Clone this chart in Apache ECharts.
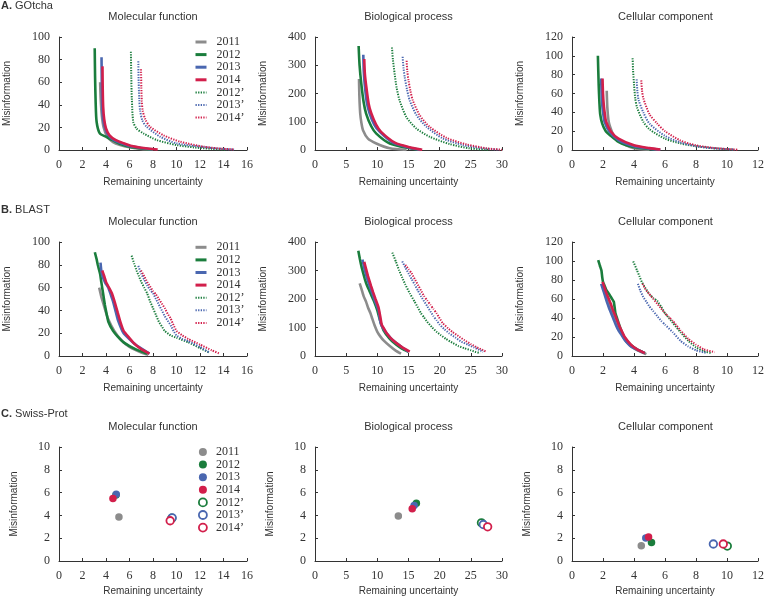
<!DOCTYPE html>
<html><head><meta charset="utf-8">
<script src="https://cdn.jsdelivr.net/npm/echarts@6/dist/echarts.min.js"></script>
<style>html,body{margin:0;padding:0;background:#fff}#c{width:767px;height:598px}</style>
</head><body><div id="c"></div>
<script>
// ---- labels ----
const years = ['2011','2012','2013','2014','2012\u2019','2013\u2019','2014\u2019'];
const colors = ['#8c8c8c','#1a7d3c','#4a67b0','#d21f4b','#1a7d3c','#4a67b0','#d21f4b'];
const rowTitles = ['GOtcha','BLAST','Swiss-Prot'];
const rowLetters = ['A.','B.','C.'];
const colTitles = ['Molecular function','Biological process','Cellular component'];
const xMaxes = [16,30,12];
const xSteps = [2,5,2];
const yMaxes = [100,400,120];
const ySteps = [20,100,20];
const yMaxScatter = 10, yStepScatter = 2;

// ---- A. GOtcha : Molecular function ----
const gMF2011 = [[3.5,60],[3.55,45],[3.65,30],[3.8,20],[4.1,12],[4.6,7],[5.2,4.5],[6,2.5],[7,1],[8,0.3]];
const gMF2012 = [[3.04,90],[3.07,65],[3.12,42],[3.2,25],[3.47,14.7],[4.05,11.5],[4.6,8.5],[5.3,5],[6,2.8],[7,1.3],[8,0.4]];
const gMF2013 = [[3.62,82],[3.64,60],[3.68,40],[3.75,28],[3.9,20],[4.2,13],[4.7,8.5],[5.3,6],[6,3.5],[7,1.8],[8,0.6]];
const gMF2014 = [[3.7,74],[3.72,55],[3.76,38],[3.85,27],[4.0,19],[4.3,13],[4.8,9],[5.5,6],[6.2,3.5],[7,2],[8.4,0.4]];
const gMF2012p = [[6.12,87],[6.15,65],[6.2,45],[6.32,25],[6.6,19],[7.18,14.7],[8.32,8.8],[10,4.4],[11.5,2.3],[13,1],[14.2,0.3]];
const gMF2013p = [[6.75,78.5],[6.78,60],[6.83,45],[6.9,35],[7.1,26],[7.46,20.6],[8.6,11.8],[10,5.9],[12,3],[13.5,1.3],[14.9,0.4]];
const gMF2014p = [[6.98,71.5],[7.01,55],[7.05,43],[7.12,35],[7.35,27],[7.75,20.6],[8.9,13],[10.3,7.4],[12.3,3],[13.8,1.2],[14.9,0.5]];
// ---- A. GOtcha : Biological process ----
const gBP2011 = [[7.06,251],[7.12,190],[7.25,130],[7.45,95],[7.7,70],[8.5,40],[9.84,23],[12,6],[14.7,0.5]];
const gBP2012 = [[7.0,368],[7.15,300],[7.43,234],[7.8,170],[8.2,129],[9,85],[9.84,58],[12,23],[15.2,6],[16.8,0.5]];
const gBP2013 = [[7.75,337],[7.82,280],[7.97,234],[8.3,170],[8.77,129],[9.5,90],[10.4,64],[12.5,26],[15.2,8],[17,0.5]];
const gBP2014 = [[7.9,322],[8.0,270],[8.24,222],[8.6,165],[9.04,129],[9.8,90],[10.6,64],[12.8,26],[15.5,8],[17.2,1]];
const gBP2012p = [[12.35,363],[12.5,320],[12.78,269],[13.1,220],[13.58,175],[14.65,117],[16.26,76],[18.4,47],[21.6,21],[24.8,6],[28,0.5]];
const gBP2013p = [[14.06,330],[14.2,290],[14.4,257],[14.75,215],[15.2,175],[16.3,123],[17.9,82],[20.5,41],[23.7,18],[27,6],[29.6,0.5]];
const gBP2014p = [[14.7,316],[14.8,280],[15.0,246],[15.3,210],[15.7,175],[16.8,123],[18.4,82],[21.1,43],[24.3,20],[27.5,6],[30,1]];
// ---- A. GOtcha : Cellular component ----
const gCC2011 = [[2.24,63],[2.28,45],[2.35,32],[2.45,25],[2.7,15],[3,10],[3.5,5],[4,2],[4.5,0.8],[5,0.3]];
const gCC2012 = [[1.67,100],[1.72,70],[1.77,50],[1.82,38],[1.95,28],[2.18,20],[2.5,15],[3,8.5],[3.5,5],[4,3],[5,1],[5.5,0.3]];
const gCC2013 = [[1.88,76],[1.91,60],[1.95,48],[2.02,38],[2.1,30],[2.4,20],[3,10.5],[4,4],[5,1.5],[5.7,0.3]];
const gCC2014 = [[1.97,76],[2.0,60],[2.05,48],[2.12,38],[2.2,30],[2.5,20],[3,12],[4,5],[5,2],[5.7,0.5]];
const gCC2012p = [[3.91,97.5],[3.94,85],[4.0,70],[4.08,55],[4.2,45],[4.6,30],[5,22],[6,12],[7,7],[8,4],[9,2],[10,0.8],[10.5,0.3]];
const gCC2013p = [[4.17,75],[4.22,62],[4.3,53],[4.6,40],[5,28],[6,15],[7,8],[8,4],[9,2],[10,0.9],[10.5,0.3]];
const gCC2014p = [[4.47,74],[4.52,63],[4.6,55],[5,38],[5.5,28],[6,20],[7,10],[8,5],[9,2.5],[10,1],[10.7,0.3]];

// ---- B. BLAST : Molecular function ----
const bMF2011 = [[3.42,60],[3.6,52],[3.8,45],[4.0,38],[4.2,32],[4.7,22],[5.3,14],[6,8],[7,3],[7.6,1]];
const bMF2012 = [[3.05,91],[3.2,85],[3.3,80],[3.5,72],[3.6,65],[3.75,55],[3.9,45],[4.05,37],[4.2,30],[4.6,22],[5,17],[5.5,12],[6.5,6],[7.5,2]];
const bMF2013 = [[3.53,82],[3.6,75],[3.7,70],[3.95,64],[4.2,60],[4.4,54],[4.6,48],[4.8,40],[5,32],[5.5,20],[6.5,10],[7.7,2]];
const bMF2014 = [[3.68,75],[3.85,70],[4,65],[4.25,60],[4.5,55],[4.75,47],[5,38],[5.25,29],[5.5,22],[6.3,12],[7,6],[7.7,2]];
const bMF2012p = [[6.18,88],[6.4,81],[6.6,75],[6.8,70],[7,65],[7.25,60],[7.5,55],[7.75,48],[8,42],[8.25,36],[8.5,30],[8.75,26],[9,22],[9.5,18],[10,16],[11,12],[12,7],[12.8,3]];
const bMF2013p = [[6.75,79],[7,72],[7.25,67],[7.5,62],[7.75,58],[8,55],[8.25,50],[8.5,45],[8.75,40],[9,35],[9.25,31],[9.5,27],[9.75,22],[10,18],[10.5,15],[11,13],[12,8],[12.8,3]];
const bMF2014p = [[6.98,75],[7.25,70],[7.5,65],[7.75,61],[8,57],[8.25,54],[8.5,50],[8.75,46],[9,42],[9.25,37],[9.5,33],[9.75,27],[10,22],[10.5,18],[11,15],[12,10],[13,5],[13.7,2]];
// ---- B. BLAST : Biological process ----
const bBP2011 = [[7.17,255],[7.5,232],[7.8,210],[8.2,190],[8.5,170],[8.9,150],[9.2,130],[9.6,105],[10,85],[10.5,68],[11,55],[12,35],[13,18],[13.8,8]];
const bBP2012 = [[6.95,369],[7.2,340],[7.5,310],[8,270],[8.3,250],[8.7,230],[9.1,210],[9.5,190],[10,160],[10.3,135],[10.5,120],[11,90],[12,60],[13,40],[14,25],[15,15]];
const bBP2013 = [[7.6,338],[7.8,320],[8,300],[8.4,270],[8.7,250],[9.1,225],[9.5,200],[10.2,160],[10.4,130],[10.6,110],[11,95],[11.5,80],[12.5,55],[14,30],[15,15]];
const bBP2014 = [[7.9,330],[8.2,305],[8.5,280],[9,245],[9.3,225],[9.7,200],[10.2,170],[10.5,135],[10.7,110],[11.1,95],[11.5,80],[12.5,55],[14,30],[15.2,15]];
const bBP2012p = [[12.4,363],[13,330],[13.5,300],[14,275],[14.5,250],[15.2,220],[16,190],[16.5,170],[17,150],[17.5,135],[18,120],[18.8,100],[19.5,85],[20.2,73],[21,60],[22,47],[23,35],[24,27],[25,20],[25.8,14],[26.5,10]];
const bBP2013p = [[14,332],[14.5,310],[15,290],[15.5,270],[16,250],[16.5,230],[17,210],[17.5,192],[18,175],[18.5,157],[19,140],[19.5,125],[20,110],[20.7,95],[21.5,80],[22.5,65],[23.5,50],[24.5,40],[25.5,30],[26.3,22],[27,15]];
const bBP2014p = [[14.5,320],[15,305],[15.5,290],[16,270],[16.5,250],[17,230],[17.5,210],[18,195],[18.5,180],[19,165],[19.5,150],[20,132],[20.5,115],[21.2,100],[22,85],[23,70],[24,55],[25,42],[26,30],[26.8,22],[27.5,15]];
// ---- B. BLAST : Cellular component ----
const bCC2011 = [[2.0,76],[2.15,68],[2.3,60],[2.45,52],[2.6,45],[2.8,37],[3.0,30],[3.25,22],[3.5,15],[4,8],[4.5,4],[4.8,2]];
const bCC2012 = [[1.69,101],[1.8,95],[1.9,90],[1.95,83],[2.0,78],[2.1,74],[2.2,70],[2.4,65],[2.55,61],[2.7,57],[2.8,45],[2.9,40],[3.0,35],[3.15,28],[3.3,22],[3.5,17],[3.7,13],[4.2,7],[4.7,3]];
const bCC2013 = [[1.88,76],[2.0,70],[2.1,65],[2.25,57],[2.4,50],[2.55,44],[2.7,38],[2.85,32],[3.0,27],[3.2,22],[3.4,17],[3.8,10],[4.3,6],[4.7,3]];
const bCC2014 = [[1.97,78],[2.1,72],[2.2,67],[2.35,61],[2.5,55],[2.65,48],[2.8,42],[2.95,36],[3.1,30],[3.25,25],[3.4,20],[3.8,12],[4.2,7],[4.7,3]];
const bCC2012p = [[3.95,99.6],[4.2,90],[4.35,84],[4.5,78],[4.75,71],[5,65],[5.25,61],[5.5,58],[5.75,52],[6,45],[6.25,40],[6.5,35],[7,25],[7.5,16],[8,9],[8.5,5],[9,3]];
const bCC2013p = [[4.25,76],[4.4,69],[4.6,62],[4.8,57],[5,52],[5.25,47],[5.5,42],[5.75,37],[6,33],[6.5,25],[7,16],[7.5,10],[8,6],[8.7,3]];
const bCC2014p = [[4.55,76],[4.75,70],[5,65],[5.25,60],[5.5,55],[5.75,50],[6,45],[6.25,41],[6.5,37],[7,27],[7.5,18],[8,12],[8.5,7],[9.2,4]];

// ---- C. Swiss-Prot : one point per year (order of `years`) ----
const sMF = [[5.1,3.85],[4.85,5.8],[4.87,5.86],[4.59,5.48],[9.6,3.75],[9.63,3.79],[9.46,3.53]];
const sBP = [[13.37,3.94],[16.26,5.07],[15.9,4.87],[15.6,4.58],[26.7,3.35],[27.0,3.2],[27.7,3.0]];
const sCC = [[4.47,1.34],[5.13,1.63],[4.76,2.01],[4.94,2.1],[10.02,1.31],[9.12,1.49],[9.76,1.49]];

const lineData = [
  [gMF2011,gMF2012,gMF2013,gMF2014,gMF2012p,gMF2013p,gMF2014p],
  [gBP2011,gBP2012,gBP2013,gBP2014,gBP2012p,gBP2013p,gBP2014p],
  [gCC2011,gCC2012,gCC2013,gCC2014,gCC2012p,gCC2013p,gCC2014p],
  [bMF2011,bMF2012,bMF2013,bMF2014,bMF2012p,bMF2013p,bMF2014p],
  [bBP2011,bBP2012,bBP2013,bBP2014,bBP2012p,bBP2013p,bBP2014p],
  [bCC2011,bCC2012,bCC2013,bCC2014,bCC2012p,bCC2013p,bCC2014p]
];
const scatterData = [sMF, sBP, sCC];

// ---- layout ----
const colLeft = [59, 315, 572];
const colWidth = [188, 187, 187];
const rowTop = [37, 242, 447];
const rowHeight = [113, 114, 114];
const SERIF = '"Liberation Serif", "DejaVu Serif", serif';
const SANS = '"Liberation Sans", Arial, sans-serif';
const TXT = '#333';

const grids = [], xAxes = [], yAxes = [], series = [], graphics = [];
for (let r = 0; r < 3; r++) {
  for (let c = 0; c < 3; c++) {
    const g = r * 3 + c;
    grids.push({left: colLeft[c], top: rowTop[r], width: colWidth[c], height: rowHeight[r], containLabel: false});
    const axisCommon = {
      gridIndex: g, type: 'value', min: 0,
      axisLine: {show: true, lineStyle: {color: '#333', width: 1}},
      axisTick: {show: true, inside: true, length: 3, lineStyle: {color: '#333'}},
      splitLine: {show: false},
      axisLabel: {fontFamily: SERIF, fontSize: 12, color: TXT, margin: 9},
      nameLocation: 'middle',
      nameTextStyle: {fontFamily: SANS, fontSize: 10, color: TXT}
    };
    xAxes.push(Object.assign({}, axisCommon, {
      max: xMaxes[c], interval: xSteps[c],
      name: 'Remaining uncertainty', nameGap: r === 2 ? 25 : 27
    }));
    yAxes.push(Object.assign({}, axisCommon, {
      max: r === 2 ? yMaxScatter : yMaxes[c], interval: r === 2 ? yStepScatter : ySteps[c],
      name: 'Misinformation', nameGap: r === 2 ? 40 : 47, nameRotate: 90
    }));
    graphics.push({type: 'text', x: colLeft[c] + colWidth[c] / 2, y: rowTop[r] - 20,
      style: {text: colTitles[c], fontFamily: SANS, fontSize: 11, fill: TXT, align: 'center', verticalAlign: 'middle'}});
    if (r < 2) {
      lineData[g].forEach((d, i) => {
        const dotted = i >= 4;
        series.push({
          type: 'line', name: years[i], xAxisIndex: g, yAxisIndex: g, data: d,
          symbol: 'none', showSymbol: false, smooth: r === 0 ? 0.25 : 0.1,
          lineStyle: {color: colors[i], width: dotted ? 2 : 2.6, type: dotted ? [1.3, 1.3] : 'solid'},
          itemStyle: {color: colors[i]}, z: 2 + i, silent: true
        });
      });
    }
  }
}
for (let c = 0; c < 3; c++) {
  const g = 6 + c;
  scatterData[c].forEach((p, i) => {
    const open = i >= 4;
    series.push({
      type: 'scatter', name: years[i], xAxisIndex: g, yAxisIndex: g, data: [p],
      symbol: 'circle', symbolSize: 7.5,
      itemStyle: open ? {color: '#fff', borderColor: colors[i], borderWidth: 1.8, opacity: 1}
                      : {color: colors[i], borderWidth: 0, opacity: 1},
      z: 10 + i, silent: true
    });
  });
}
for (let r = 0; r < 3; r++) {
  graphics.push({type: 'text', x: 1, y: [6, 210, 414][r],
    style: {text: '{b|' + rowLetters[r] + '} ' + rowTitles[r], fontFamily: SANS, fontSize: 11, fill: TXT, verticalAlign: 'middle',
      rich: {b: {fontWeight: 'bold', fontFamily: SANS, fontSize: 11, fill: TXT}}}});
}

const legendText = {fontFamily: SERIF, fontSize: 12, color: TXT, lineHeight: 12.6, padding: [0, 0, 0, 5]};
const lineLegendData = years.map((y, i) => ({name: y, itemStyle: {opacity: 0},
  lineStyle: {color: colors[i], width: i >= 4 ? 2 : 3, type: i >= 4 ? [1.3, 1.3] : 'solid', opacity: 1}}));
const legends = [
  {orient: 'vertical', left: 189, top: rowTop[0] - 6.3, itemWidth: 11, itemHeight: 8, itemGap: 0,
   data: lineLegendData, textStyle: legendText, selectedMode: false},
  {orient: 'vertical', left: 189, top: rowTop[1] - 6.3 + 0.3, itemWidth: 11, itemHeight: 8, itemGap: 0,
   data: lineLegendData, textStyle: legendText, selectedMode: false},
  {orient: 'vertical', left: 193, top: rowTop[2] - 6.3, itemWidth: 8, itemHeight: 8, itemGap: 0,
   textStyle: Object.assign({}, legendText, {padding: [0, 0, 0, 4]}), selectedMode: false,
   data: years.map((y, i) => ({name: y, icon: 'circle',
     itemStyle: i >= 4 ? {color: '#fff', borderColor: colors[i], borderWidth: 1.8}
                       : {color: colors[i], borderColor: colors[i], borderWidth: 0}}))}
];

const chart = echarts.init(document.getElementById('c'), null, {renderer: 'canvas'});
chart.setOption({
  animation: false, backgroundColor: '#fff',
  grid: grids, xAxis: xAxes, yAxis: yAxes, series: series,
  legend: legends, graphic: graphics
});
</script></body></html>
